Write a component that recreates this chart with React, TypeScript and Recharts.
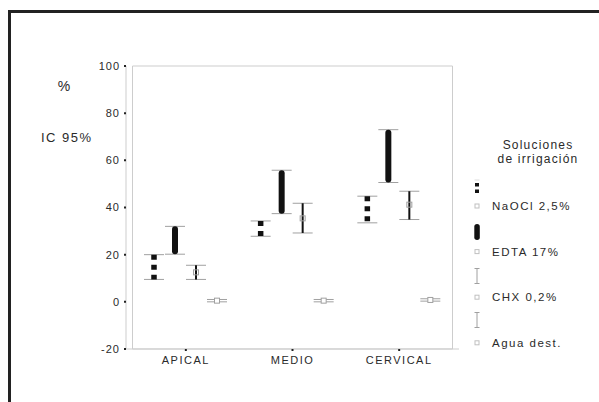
import React from 'react';
import { ComposedChart, Bar, XAxis, YAxis, ReferenceArea } from 'recharts';

const categories = ['APICAL', 'MEDIO', 'CERVICAL'];
const yTicks = [-20, 0, 20, 40, 60, 80, 100];
const seriesNames = ['NaOCl 2,5%', 'EDTA 17%', 'CHX 0,2%', 'Agua dest.'];

// IC 95% por solución (límite inferior, superior y media)
const naoclLow = [9.5, 27.8, 33.5];
const naoclHigh = [20, 34.3, 44.8];
const naoclMean = [14.5, 31, 39];

const edtaLow = [20.2, 37.4, 50.6];
const edtaHigh = [32, 55.8, 73];
const edtaMean = [26, 46.6, 62];

const chxLow = [9.5, 29.2, 34.9];
const chxHigh = [15.5, 41.8, 46.9];
const chxMean = [12.5, 35.4, 41.2];

const aguaLow = [0, 0, 0.3];
const aguaHigh = [1, 1, 1.3];
const aguaMean = [0.5, 0.5, 0.8];

const data = categories.map((name, i) => ({
    name,
    naocl: [naoclLow[i], naoclHigh[i]],
    naoclMean: naoclMean[i],
    edta: [edtaLow[i], edtaHigh[i]],
    edtaMean: edtaMean[i],
    chx: [chxLow[i], chxHigh[i]],
    chxMean: chxMean[i],
    agua: [aguaLow[i], aguaHigh[i]],
    aguaMean: aguaMean[i],
}));

const FONT = '"Liberation Sans", Arial, Helvetica, sans-serif';
const INK = '#2a2a2a';
const CAP = '#a0a0a0';
const FRAME = '#cdcdcd';

const rangeBox = (p: any) => {
    const top = Math.min(p.y, p.y + p.height);
    const bottom = Math.max(p.y, p.y + p.height);
    return { top, bottom, left: p.x + 0.5, right: p.x + p.width - 0.5, cx: p.x + p.width / 2 };
};

// media situada dentro del rango que ya ha escalado la barra
const meanPos = (p: any, key: string, b: any) => {
    const [lo, hi] = p.payload[key];
    const m = p.payload[key + 'Mean'];
    if (hi === lo) return b.bottom;
    return b.bottom - ((m - lo) / (hi - lo)) * (b.bottom - b.top);
};

const Caps = ({ b }: any) => (
    <>
        <line x1={b.left} x2={b.right} y1={b.top} y2={b.top} stroke={CAP} strokeWidth={1} />
        <line x1={b.left} x2={b.right} y1={b.bottom} y2={b.bottom} stroke={CAP} strokeWidth={1} />
    </>
);

const NaoclShape = (p: any) => {
    const b = rangeBox(p);
    return (
        <g>
            <Caps b={b} />
            <line x1={b.cx} x2={b.cx} y1={b.top} y2={b.bottom} stroke="#111" strokeWidth={5.5} strokeDasharray="5 5" />
        </g>
    );
};

const EdtaShape = (p: any) => {
    const b = rangeBox(p);
    return (
        <g>
            <Caps b={b} />
            <rect x={b.cx - 3} y={b.top} width={6} height={b.bottom - b.top} rx={3} fill="#111" />
        </g>
    );
};

const ChxShape = (p: any) => {
    const b = rangeBox(p);
    const m = meanPos(p, 'chx', b);
    return (
        <g>
            <Caps b={b} />
            <line x1={b.cx} x2={b.cx} y1={b.top} y2={b.bottom} stroke="#111" strokeWidth={2} />
            <rect x={b.cx - 2.5} y={m - 2.5} width={5} height={5} fill="none" stroke={CAP} strokeWidth={1} />
        </g>
    );
};

const AguaShape = (p: any) => {
    const b = rangeBox(p);
    const m = meanPos(p, 'agua', b);
    return (
        <g>
            <Caps b={b} />
            <rect x={b.cx - 2.5} y={m - 2.5} width={5} height={5} fill="#fff" stroke={CAP} strokeWidth={1} />
        </g>
    );
};

const legendSymbol = (i: number, sy: number) => {
    if (i === 0) {
        return (
            <g>
                <line x1={9.5} x2={14.5} y1={sy - 8} y2={sy - 8} stroke="#ddd" />
                <rect x={10} y={sy - 5} width={4} height={3.5} fill="#111" />
                <rect x={10} y={sy + 1.5} width={4} height={3.5} fill="#111" />
            </g>
        );
    }
    if (i === 1) return <rect x={9.3} y={sy - 8} width={5.5} height={16} rx={2.75} fill="#111" />;
    return (
        <g stroke={CAP} strokeWidth={1}>
            <line x1={12} x2={12} y1={sy - 7.5} y2={sy + 7.5} />
            <line x1={9.5} x2={14.5} y1={sy - 7.5} y2={sy - 7.5} />
            <line x1={9.5} x2={14.5} y1={sy + 7.5} y2={sy + 7.5} />
        </g>
    );
};

const LegendBox = () => {
    const txt = { fontFamily: FONT, fontSize: 11.5, letterSpacing: 1.5, fill: INK };
    return (
        <svg width={134} height={230} style={{ position: 'absolute', left: 465, top: 130, overflow: 'visible' }}>
            <text x={73} y={15} textAnchor="middle" dominantBaseline="central" style={{ ...txt, fontSize: 12, letterSpacing: 1.2 }}>Soluciones</text>
            <text x={73} y={29} textAnchor="middle" dominantBaseline="central" style={{ ...txt, fontSize: 12, letterSpacing: 1.2 }}>de irrigación</text>
            {seriesNames.map((name, i) => {
                const sy = 58 + 44 * i;
                const ty = 76 + 45.6 * i;
                return (
                    <g key={name}>
                        {legendSymbol(i, sy)}
                        <rect x={10} y={ty - 2} width={4} height={4} fill="none" stroke="#c0c0c0" />
                        <text x={27} y={ty} dominantBaseline="central" style={txt}>{name}</text>
                    </g>
                );
            })}
        </svg>
    );
};

const tickStyle = { fontFamily: FONT, fontSize: 11, fill: INK, letterSpacing: 1 };

export default function App() {
    return (
        <div style={{ position: 'absolute', left: 0, top: 0, width: 599, height: 402, background: '#fff', overflow: 'hidden', fontFamily: FONT }}>
            <div style={{ position: 'absolute', left: 8, top: 10, width: 620, height: 420, borderTop: '3px solid #222', borderLeft: '3px solid #222' }} />
            <div style={{ position: 'absolute', left: 0, top: 0 }}>
                <ComposedChart width={599} height={402} data={data} margin={{ top: 66, right: 140, bottom: 23, left: 66 }} barGap={0} barSize={21}>
                    <ReferenceArea y1={-20} y2={100} fill="none" stroke={FRAME} strokeWidth={1} />
                    <XAxis
                        dataKey="name"
                        height={30}
                        padding={{ left: 6.5, right: 6.5 }}
                        axisLine={{ stroke: FRAME }}
                        tickLine={{ stroke: '#222', strokeWidth: 2 }}
                        tickSize={2}
                        tickMargin={5}
                        tick={{ ...tickStyle, letterSpacing: 1.5 }}
                    />
                    <YAxis
                        width={60}
                        domain={[-20, 100]}
                        ticks={yTicks}
                        interval={0}
                        axisLine={{ stroke: FRAME }}
                        tickLine={{ stroke: '#222', strokeWidth: 2 }}
                        tickSize={2}
                        tickMargin={4}
                        tick={tickStyle}
                    />
                    <Bar dataKey="naocl" name={seriesNames[0]} shape={NaoclShape} isAnimationActive={false} />
                    <Bar dataKey="edta" name={seriesNames[1]} shape={EdtaShape} isAnimationActive={false} />
                    <Bar dataKey="chx" name={seriesNames[2]} shape={ChxShape} isAnimationActive={false} />
                    <Bar dataKey="agua" name={seriesNames[3]} shape={AguaShape} isAnimationActive={false} />
                </ComposedChart>
            </div>
            <LegendBox />
            <svg width={120} height={160} style={{ position: 'absolute', left: 0, top: 0 }}>
                <text x={64} y={86} textAnchor="middle" dominantBaseline="central" style={{ fontFamily: FONT, fontSize: 14, fill: INK }}>%</text>
                <text x={41} y={137} dominantBaseline="central" style={{ fontFamily: FONT, fontSize: 13, fill: INK, letterSpacing: 1.5 }}>IC 95%</text>
            </svg>
        </div>
    );
}
